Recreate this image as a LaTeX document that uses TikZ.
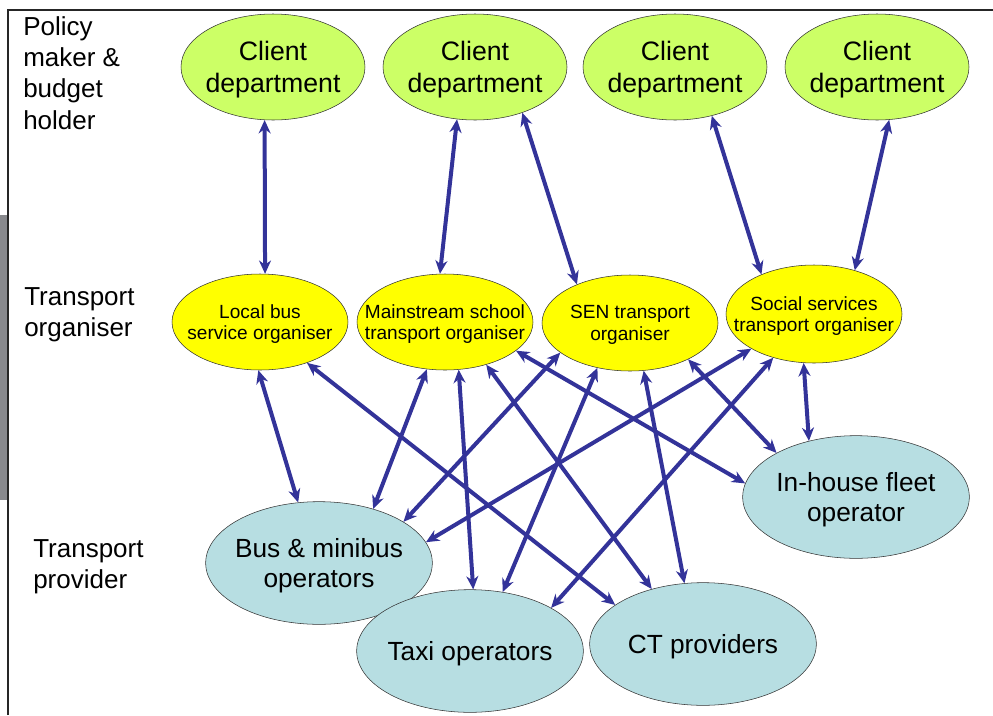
\documentclass[tikz,border=0pt]{standalone}
\usepackage{fontspec}
\setmainfont{Liberation Sans}
\usetikzlibrary{shapes.geometric, arrows.meta}
\definecolor{clientgreen}{RGB}{204,255,102}
\definecolor{orgyellow}{RGB}{255,255,0}
\definecolor{provblue}{RGB}{183,222,226}
\definecolor{linkblue}{RGB}{51,51,153}
\definecolor{sidegray}{RGB}{136,137,141}

\begin{document}
\begin{tikzpicture}[x=0.75pt, y=-0.75pt,
    client/.style={ellipse, draw=black!80, thin, fill=clientgreen, minimum width=138pt, minimum height=79.5pt, inner sep=0pt, inner xsep=-6pt, text depth=0pt, align=center, font=\fontsize{20}{24}\selectfont},
    organiser/.style={ellipse, draw=black!80, thin, fill=orgyellow, minimum width=132pt, minimum height=72pt, inner sep=0pt, inner xsep=-20pt, text depth=0pt, align=center, font=\fontsize{14.3}{16.3}\selectfont},
    provider/.style={ellipse, draw=black!80, thin, fill=provblue, minimum width=170pt, minimum height=92pt, inner sep=0pt, inner xsep=-10pt, text depth=0pt, align=center, font=\fontsize{19.7}{22.5}\selectfont},
    level/.style={anchor=north west, inner sep=0pt, align=left, font=\fontsize{19.5}{23.5}\selectfont},
    link/.style={linkblue, line width=3pt, {Stealth[length=10pt,width=9pt]}-{Stealth[length=10pt,width=9pt]}}]
    \useasboundingbox (0,0) rectangle (993,715);
    \fill[sidegray] (0,215) rectangle (7,500);
    \draw[line width=1.5pt, black!85] (8,715) -- (8,10) -- (993,10);

    \node[level] (policy) at (23,16) {Policy\\maker \&\\budget\\holder};
    \node[level] (organising) at (24,287) {Transport\\organiser};
    \node[level] (providing) at (33,539) {Transport\\provider};

    \node[client] (c1) at (273,67) {Client\\department};
    \node[client] (c2) at (475,67) {Client\\department};
    \node[client] (c3) at (675,67) {Client\\department};
    \node[client] (c4) at (877,67) {Client\\department};

    \node[organiser] (lb) at (260,322) {Local bus\\service organiser};
    \node[organiser] (ms) at (445,322) {Mainstream school\\transport organiser};
    \node[organiser] (sen) at (630,323) {SEN transport\\organiser};
    \node[organiser, minimum height=73.5pt] (ss) at (814,314) {Social services\\transport organiser};

    \node[provider] (bm) at (319,563) {Bus \& minibus\\operators};
    \node[provider] (ih) at (856,497) {In-house fleet\\operator};
    \node[provider] (taxi) at (470,651) {Taxi operators};
    \node[provider] (ct) at (703,644) {CT providers};

    \draw[link] (c1.261) -- (lb.84);
    \draw[link] (c2.251) -- (ms.96);
    \draw[link] (c2.316) -- (sen.144);
    \draw[link] (c3.307) -- (ss.143);
    \draw[link] (c4.283) -- (ss.47);

    \draw[link] (lb.268) -- (bm.109);
    \draw[link] (lb.319) -- (ct.156);
    \draw[link] (ms.249) -- (bm.45);
    \draw[link] (ms.286) -- (taxi.87);
    \draw[link] (ms.314) -- (ct.133);
    \draw[link] (ms.338) -- (ih.173);
    \draw[link] (sen.203) -- (bm.26);
    \draw[link] (sen.234) -- (taxi.61);
    \draw[link] (sen.286) -- (ct.107);
    \draw[link] (sen.328) -- (ih.151);
    \draw[link] (ss.209) -- (bm.11);
    \draw[link] (ss.227) -- (taxi.28);
    \draw[link] (ss.258) -- (ih.130);
\end{tikzpicture}
\end{document}
